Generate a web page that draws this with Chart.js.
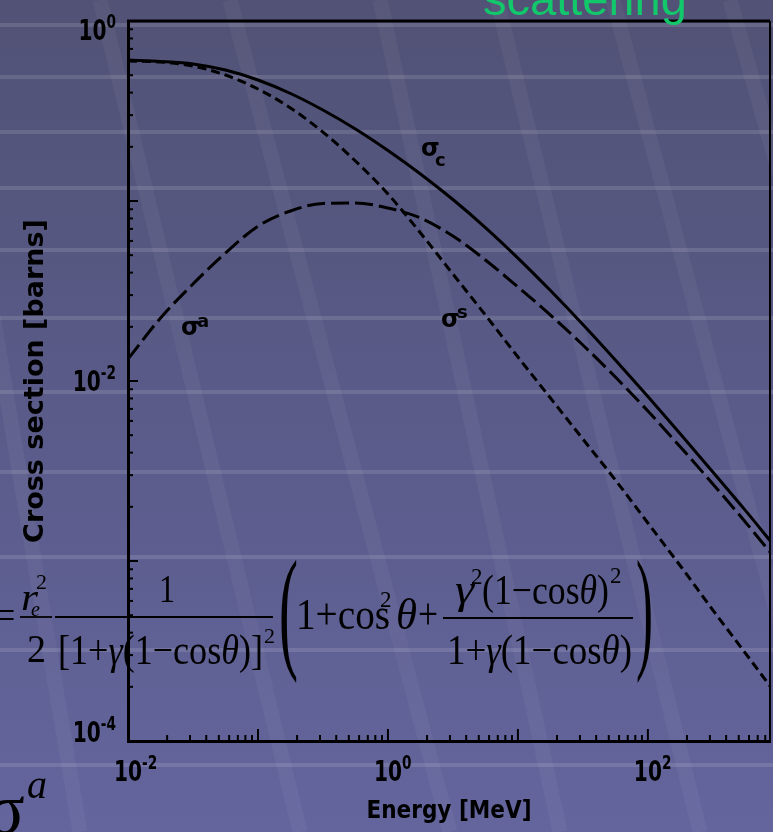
<!DOCTYPE html>
<html>
<head>
<meta charset="utf-8">
<title>Compton cross sections</title>
<script src="https://cdn.jsdelivr.net/npm/chart.js@4.4.1/dist/chart.umd.min.js"></script>
<style>
	html, body { margin: 0; padding: 0; background: #5a5b8a; overflow: hidden; }
	#c { display: block; }
</style>
</head>
<body>
<canvas id="c" width="773" height="832"></canvas>
<script>
// photon energy [MeV], read at quarter-decade steps
const energies = [0.01, 0.0178, 0.0316, 0.0562, 0.1, 0.178, 0.316, 0.562, 1, 1.78, 3.16, 5.62, 10, 17.8, 31.6, 56.2, 100, 178, 316, 562, 870];
// total Compton cross section sigma_c [barns]
const sigmaC = [0.607, 0.596, 0.577, 0.534, 0.470, 0.3956, 0.3202, 0.2512, 0.1908, 0.1413, 0.1019, 0.0712, 0.0482, 0.0318, 0.0206, 0.01308, 0.00820, 0.00508, 0.00312, 0.00191, 0.00130];
// scattering part sigma_s
const sigmaS = [0.600, 0.592, 0.562, 0.501, 0.419, 0.3286, 0.2416, 0.1668, 0.1094, 0.0664, 0.0393, 0.02326, 0.01359, 0.00804, 0.00476, 0.00282, 0.001626, 0.000938, 0.000534, 0.000308, 0.000202];
// absorption part sigma_a
const sigmaA = [0.01325, 0.02239, 0.03458, 0.0514, 0.0725, 0.0880, 0.0970, 0.0975, 0.0914, 0.0804, 0.0639, 0.0470, 0.0333, 0.02326, 0.01585, 0.01052, 0.00681, 0.00430, 0.00268, 0.001647, 0.001122];

const xTickValues = [0.01, 1, 100];
const yTickValues = [1, 0.01, 0.0001];
const xRange = [0.01, 870];
const yRange = [0.0001, 1];

function points(values) {
	return energies.map(function(e, i) { return { x: e, y: values[i] }; });
}

// draws text, optionally squeezed into [x0, x1]
function run(ctx, segs, x0, x1, y, size, family) {
	family = family || '"Liberation Serif"';
	const fonts = segs.map(function(s) { return (s[1] ? 'italic ' : '') + size + 'px ' + family; });
	let total = 0;
	segs.forEach(function(s, i) { ctx.font = fonts[i]; total += ctx.measureText(s[0]).width; });
	const sx = x1 == null ? 1 : (x1 - x0) / total;
	ctx.save();
	ctx.translate(x0, y);
	ctx.scale(sx, 1);
	let cx = 0;
	segs.forEach(function(s, i) {
		ctx.font = fonts[i];
		ctx.fillText(s[0], cx, 0);
		cx += ctx.measureText(s[0]).width;
	});
	ctx.restore();
}

function line(ctx, x1, y1, x2, y2, w) {
	ctx.lineWidth = w || 1.6;
	ctx.beginPath();
	ctx.moveTo(x1, y1);
	ctx.lineTo(x2, y2);
	ctx.stroke();
}

// "10" with superscript exponent, squeezed a little like the scanned labels
function powerLabel(ctx, exp, x, y, align) {
	const sx = 0.8;
	const base = '10';
	const sup = exp < 0 ? '-' + Math.abs(exp) : String(exp);
	ctx.font = 'bold 28px "DejaVu Sans Condensed"';
	const bw = ctx.measureText(base).width * sx;
	ctx.font = 'bold 19px "DejaVu Sans Condensed"';
	const sw = ctx.measureText(sup).width * sx;
	let bx;
	if (align === 'right') bx = x - sw - bw;
	else bx = x - bw / 2;
	ctx.save();
	ctx.translate(bx, y);
	ctx.scale(sx, 1);
	ctx.font = 'bold 28px "DejaVu Sans Condensed"';
	ctx.fillText(base, 0, 0);
	ctx.font = 'bold 19px "DejaVu Sans Condensed"';
	ctx.fillText(sup, bw / sx, -12);
	ctx.restore();
}

const decor = {
	id: 'decor',
	beforeDraw: function(chart) {
		const ctx = chart.ctx;
		const w = chart.width, h = chart.height;
		ctx.save();
		const g = ctx.createLinearGradient(0, 0, 0, h);
		g.addColorStop(0, '#515275');
		g.addColorStop(0.5, '#5a5b89');
		g.addColorStop(1, '#64659d');
		ctx.fillStyle = g;
		ctx.fillRect(0, 0, w, h);
		// diagonal streaks of the slide background
		ctx.strokeStyle = 'rgba(255,255,255,0.045)';
		[[-60, 0, 80, 832], [100, 0, 300, 832], [230, 0, 450, 832], [380, 0, 560, 832],
		 [497, 0, 700, 832], [613, 0, 800, 700], [730, 0, 900, 600]].forEach(function(s) {
			line(ctx, s[0], s[1], s[2], s[3], 15);
		});
		// horizontal light bands
		ctx.strokeStyle = 'rgba(255,255,255,0.12)';
		[25, 77, 132, 188, 250, 318, 392, 472, 557, 650, 765].forEach(function(y) {
			line(ctx, 0, y, w, y, 4);
		});
		ctx.restore();
	},
	afterDraw: function(chart) {
		const ctx = chart.ctx;
		const a = chart.chartArea;
		const xs = chart.scales.x, ys = chart.scales.y;
		ctx.save();
		ctx.fillStyle = '#000';
		ctx.strokeStyle = '#000';
		ctx.textAlign = 'left';
		ctx.textBaseline = 'alphabetic';

		// top and right of the frame
		line(ctx, a.left - 1, a.top, a.right, a.top, 3);
		line(ctx, a.right, a.top, a.right, a.bottom, 2);

		// inner ticks
		for (let d = -2; d <= 2; d++) {
			for (let m = 1; m < 10; m++) {
				const v = m * Math.pow(10, d);
				if (v < xs.min || v > xs.max) continue;
				const px = xs.getPixelForValue(v);
				line(ctx, px, a.bottom, px, a.bottom - (m === 1 ? 12 : 6), 2);
			}
		}
		for (let d = -4; d <= 0; d++) {
			for (let m = 1; m < 10; m++) {
				const v = m * Math.pow(10, d);
				if (v < ys.min || v > ys.max) continue;
				const py = ys.getPixelForValue(v);
				line(ctx, a.left, py, a.left + (m === 1 ? 10 : 5), py, 2);
			}
		}

		// tick labels
		xTickValues.forEach(function(v) {
			powerLabel(ctx, Math.round(Math.log10(v)), xs.getPixelForValue(v), 781, 'center');
		});
		yTickValues.forEach(function(v) {
			const py = Math.min(Math.max(ys.getPixelForValue(v), 30), 732);
			powerLabel(ctx, Math.round(Math.log10(v)), 116, py + 10, 'right');
		});

		// curve labels
		ctx.font = 'bold 24px "DejaVu Sans"';
		ctx.fillText('σ', 421, 156);
		ctx.fillText('σ', 441, 327);
		ctx.fillText('σ', 181, 335);
		ctx.font = 'bold 18px "DejaVu Sans"';
		ctx.fillText('c', 435, 166);
		ctx.fillText('s', 457, 318);
		ctx.fillText('a', 197, 327);

		// slide text around the chart
		ctx.fillStyle = '#12c86a';
		ctx.font = '47px "Liberation Sans"';
		ctx.fillText('scattering', 483, 15);
		ctx.fillStyle = '#000';
		run(ctx, [['σ', 0]], -14, null, 833, 72);
		run(ctx, [['a', 1]], 27, null, 798, 40);

		// Klein-Nishina formula
		run(ctx, [['=', 0]], -2, 15, 629, 40);
		run(ctx, [['r', 1]], 21, 38, 610, 38);
		run(ctx, [['e', 1]], 31, null, 616, 20);
		run(ctx, [['2', 0]], 36, null, 589, 22);
		line(ctx, 20, 617, 52, 617, 1.8);
		run(ctx, [['2', 0]], 27, 46, 662, 40);
		run(ctx, [['1', 0]], 159, 175, 602, 40);
		line(ctx, 55, 617, 273, 617, 1.8);
		run(ctx, [['[1+', 0], ['γ', 1], ['(1−cos', 0], ['θ', 1], [')]', 0]], 58, 263, 664, 42);
		run(ctx, [['2', 0]], 264, null, 643, 22);
		run(ctx, [['(', 0]], 279, 298, 654, 136);
		run(ctx, [['1+cos', 0]], 296, 390, 629, 44);
		run(ctx, [['2', 0]], 380, null, 607, 23);
		run(ctx, [['θ', 1]], 396, 417, 629, 44);
		run(ctx, [['+', 0]], 418, 438, 629, 44);
		line(ctx, 443, 618, 633, 618, 1.8);
		run(ctx, [['γ', 1]], 455, 474, 603, 42);
		run(ctx, [['2', 0]], 471, null, 584, 23);
		run(ctx, [['(1−cos', 0], ['θ', 1], [')', 0]], 482, 609, 604, 42);
		run(ctx, [['2', 0]], 610, null, 583, 23);
		run(ctx, [['1+', 0], ['γ', 1], ['(1−cos', 0], ['θ', 1], [')', 0]], 447, 632, 664, 42);
		run(ctx, [[')', 0]], 636, 653, 654, 136);
		ctx.restore();
	}
};

const chartConfig = {
	type: 'line',
	data: {
		datasets: [{
			label: 'σc',
			data: points(sigmaC),
			borderColor: '#000',
			borderWidth: 3
		}, {
			label: 'σs',
			data: points(sigmaS),
			borderColor: '#000',
			borderWidth: 3,
			borderDash: [9, 5]
		}, {
			label: 'σa',
			data: points(sigmaA),
			borderColor: '#000',
			borderWidth: 3,
			borderDash: [18, 6]
		}]
	},
	options: {
		responsive: false,
		animation: false,
		devicePixelRatio: 1,
		layout: { padding: { left: 0, top: 21, right: 3, bottom: 0 } },
		elements: {
			point: { radius: 0 },
			line: { cubicInterpolationMode: 'monotone', fill: false }
		},
		scales: {
			x: {
				type: 'logarithmic',
				min: xRange[0],
				max: xRange[1],
				grid: { display: false },
				border: { display: true, color: '#000', width: 3 },
				ticks: { display: false },
				title: {
					display: true,
					text: 'Energy [MeV]',
					color: '#000',
					font: { family: '"DejaVu Sans Condensed"', weight: 'bold', size: 24 },
					padding: { top: 0, bottom: 6 }
				},
				afterFit: function(scale) { scale.height = 91; }
			},
			y: {
				type: 'logarithmic',
				min: yRange[0],
				max: yRange[1],
				grid: { display: false },
				border: { display: true, color: '#000', width: 3 },
				ticks: { display: false },
				title: {
					display: true,
					text: 'Cross section [barns]',
					color: '#000',
					font: { family: '"DejaVu Sans"', weight: 'bold', size: 27 },
					padding: { top: 20, bottom: 0 }
				},
				afterFit: function(scale) { scale.width = 128; }
			}
		},
		plugins: {
			legend: { display: false },
			tooltip: { enabled: false }
		}
	},
	plugins: [decor]
};

new Chart(document.getElementById('c'), chartConfig);
</script>
</body>
</html>
